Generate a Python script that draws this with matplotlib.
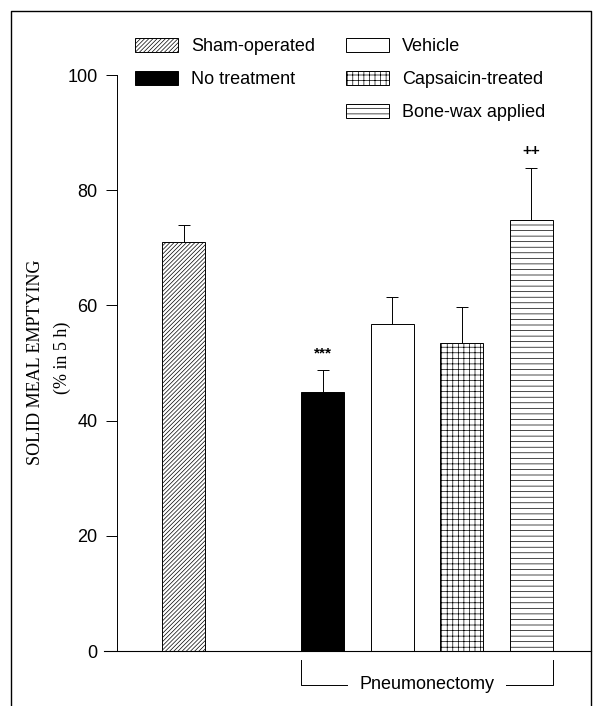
import matplotlib
matplotlib.use("Agg")
import matplotlib.pyplot as plt
from matplotlib.patches import Patch
from matplotlib.lines import Line2D

# values
groups = ["Sham-operated", "No treatment", "Vehicle", "Capsaicin-treated", "Bone-wax applied"]
positions = [0, 2, 3, 4, 5]
emptying = [71.0, 45.0, 56.8, 53.5, 74.8]
sem = [2.9, 3.8, 4.6, 6.2, 9.1]
marks = ["", "***", "", "", "++"]
y_ticks = [0, 20, 40, 60, 80, 100]

fills = ["white", "black", "white", "white", "white"]
hatches = ["////////", None, None, "+++", "---"]

plt.rcParams["hatch.linewidth"] = 0.5
plt.rcParams["font.family"] = ["Liberation Sans", "DejaVu Sans"]

fig = plt.figure(figsize=(5.94, 7.06), dpi=100)
ax = fig.add_axes([117 / 594, 1 - 651 / 706, (591 - 117) / 594, (651 - 75) / 706])

bars = ax.bar(positions, emptying, width=0.62, color=fills, edgecolor="black", linewidth=0.7)
for b, h in zip(bars, hatches):
    if h:
        b.set_hatch(h)

eb = ax.errorbar(positions, emptying, yerr=[[0] * len(sem), sem], fmt="none",
                 ecolor="black", elinewidth=0.7, capsize=4.5, capthick=0.7)
eb[1][0].set_visible(False)

for x, v, e, m in zip(positions, emptying, sem, marks):
    if m:
        ax.annotate(m, (x, v + e), xytext=(0, 7), textcoords="offset points",
                    ha="center", va="bottom", fontsize=11, fontweight="bold")

ax.set_ylim(0, 100)
ax.set_xlim(-0.957, 5.86)
ax.set_yticks(y_ticks)
ax.tick_params(axis="y", direction="out", length=8, width=0.7, labelsize=13, pad=6)
ax.set_xticks([])
for s in ["top", "right"]:
    ax.spines[s].set_visible(False)
ax.spines["left"].set_linewidth(0.7)
ax.spines["bottom"].set_linewidth(0.8)
ax.spines["bottom"].set_bounds(-1.15, 5.86)

# y label, two lines in a serif face
fig.text(36 / 594, 1 - 362 / 706, "SOLID MEAL EMPTYING", rotation=90, ha="center", va="center",
         fontsize=13, family="Liberation Serif")
fig.text(62 / 594, 1 - 358 / 706, "(% in 5 h)", rotation=90, ha="center", va="center",
         fontsize=13, family="Liberation Serif")

# pneumonectomy bracket
x0 = positions[1] - 0.31
x1 = positions[-1] + 0.31
tr = ax.get_xaxis_transform()
ax.plot([x0, x0, x1, x1], [-0.016, -0.059, -0.059, -0.016], color="black", lw=0.7,
        transform=tr, clip_on=False)
ax.text((x0 + x1) / 2, -0.059, "Pneumonectomy", transform=tr, ha="center", va="center",
        fontsize=13, bbox=dict(facecolor="white", edgecolor="none", pad=8))

# legend: two columns, blank slot under "No treatment"
handles = [Patch(facecolor=f, edgecolor="black", hatch=h, linewidth=0.7, label=g)
           for f, h, g in zip(fills, hatches, groups)]
blank = Line2D([], [], linestyle="none", label=" ")
handles = handles[:2] + [blank] + handles[2:]
fig.legend(handles=handles, ncol=2, loc="upper left", bbox_to_anchor=(126 / 594, 1 - 29 / 706),
           frameon=False, fontsize=13, handlelength=2.4, handleheight=0.8,
           handletextpad=0.7, labelspacing=0.88, columnspacing=1.7, borderpad=0)

# outer frame of the panel
fig.add_artist(Line2D([11 / 594, 11 / 594, 591 / 594, 591 / 594],
                      [0, 1 - 11 / 706, 1 - 11 / 706, 0],
                      transform=fig.transFigure, color="black", lw=1.0))

fig.savefig("out.png", dpi=100)
